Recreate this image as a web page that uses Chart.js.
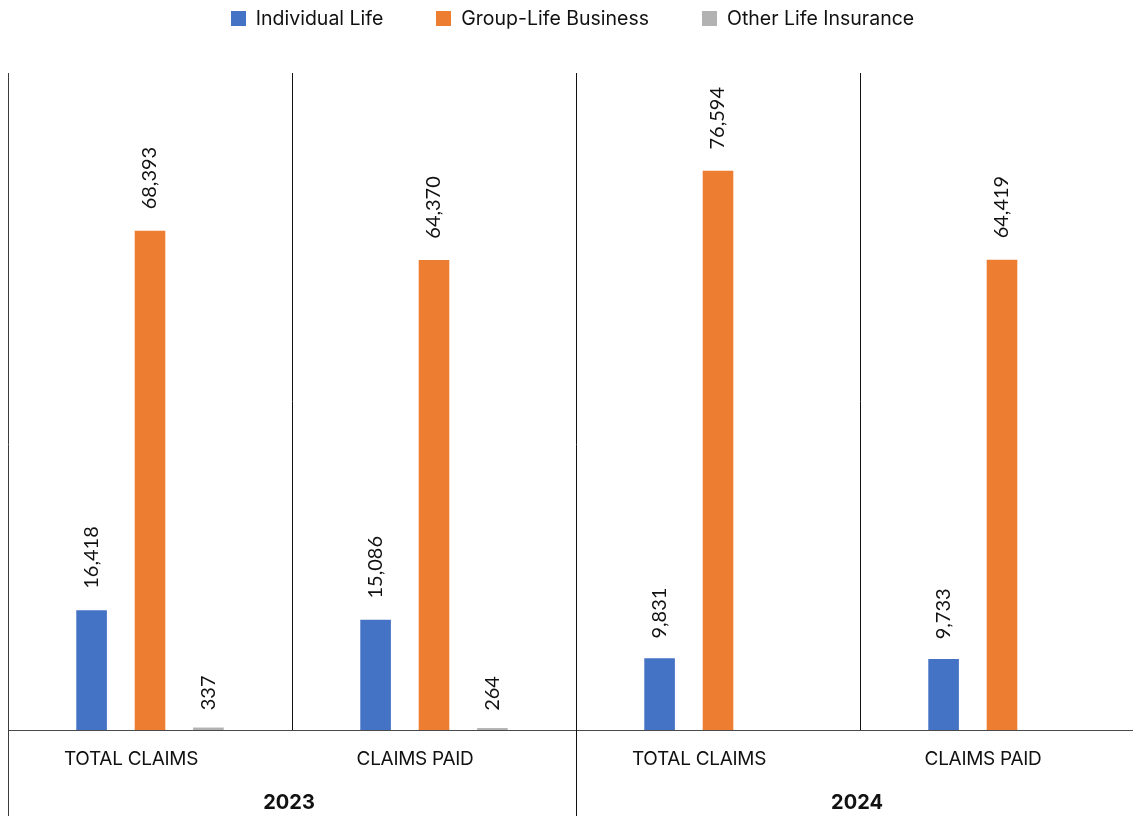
<!DOCTYPE html>
<html>
<head>
<meta charset="utf-8">
<script src="https://cdn.jsdelivr.net/npm/chart.js@4/dist/chart.umd.min.js"></script>
<style>
  html, body { margin: 0; padding: 0; background: #fff; overflow: hidden; }
  #wrap { width: 1144px; height: 816px; position: relative; }
</style>
</head>
<body>
<div id="wrap"><canvas id="c"></canvas></div>
<script>
// Claims by line of business, in thousands
const categories = ['TOTAL CLAIMS', 'CLAIMS PAID', 'TOTAL CLAIMS', 'CLAIMS PAID'];
const years = ['2023', '2024'];
const seriesNames = ['Individual Life', 'Group-Life Business', 'Other Life Insurance'];
const individualLife = [16418, 15086, 9831, 9733];
const groupLife = [68393, 64370, 76594, 64419];
const otherLife = [337, 264, null, null];
const seriesColors = ['#4472C4', '#ED7D31', '#B2B2B2'];

const LABEL_FONT = '"Lato", "Open Sans", sans-serif';
const UI_FONT = '"Inter", "Roboto", sans-serif';

// Value labels, rotated, above each bar
const valueLabels = {
  id: 'valueLabels',
  afterDatasetsDraw(chart) {
    const ctx = chart.ctx;
    ctx.save();
    ctx.font = '20px ' + LABEL_FONT;
    ctx.fillStyle = '#111';
    chart.data.datasets.forEach((ds, di) => {
      const meta = chart.getDatasetMeta(di);
      meta.data.forEach((bar, i) => {
        const v = ds.data[i];
        if (v === null || v === undefined) return;
        const txt = v.toLocaleString('en-US');
        const w = ctx.measureText(txt).width;
        const gap = 12 + 0.15 * w;
        ctx.save();
        ctx.translate(bar.x, bar.y - gap);
        ctx.rotate(-Math.PI / 2);
        ctx.textAlign = 'left';
        ctx.textBaseline = 'middle';
        ctx.fillText(txt, 0, 0);
        ctx.restore();
      });
    });
    ctx.restore();
  }
};

// Frame lines, category and year labels, legend
const frame = {
  id: 'frame',
  afterDraw(chart) {
    const ctx = chart.ctx;
    const area = chart.chartArea;
    const xs = chart.scales.x;
    const H = chart.height;
    const n = categories.length;
    const step = (area.right - area.left) / n;
    ctx.save();

    // baseline
    ctx.strokeStyle = '#4a4a4a';
    ctx.lineWidth = 1;
    ctx.beginPath();
    ctx.moveTo(area.left, Math.round(area.bottom) + 0.5);
    ctx.lineTo(chart.width, Math.round(area.bottom) + 0.5);
    ctx.stroke();

    // vertical separators between categories
    for (let k = 0; k < n; k++) {
      const x = Math.round(area.left + k * step) + 0.5;
      const full = (k % 2 === 0);
      ctx.strokeStyle = k === 0 ? '#3a3a3a' : '#111';
      ctx.beginPath();
      ctx.moveTo(x, Math.round(area.top));
      ctx.lineTo(x, full ? H : Math.round(area.bottom));
      ctx.stroke();
    }

    // category labels (sit slightly left of the bar group centre)
    ctx.fillStyle = '#111';
    ctx.textAlign = 'center';
    ctx.textBaseline = 'middle';
    ctx.font = '19px ' + UI_FONT;
    ctx.letterSpacing = '-0.3px';
    categories.forEach((c, i) => {
      ctx.fillText(c, xs.getPixelForValue(i) - 19, area.bottom + 29);
    });

    // year labels
    ctx.letterSpacing = '0px';
    ctx.font = 'bold 20px ' + UI_FONT;
    years.forEach((y, j) => {
      const cx = (xs.getPixelForValue(2 * j) + xs.getPixelForValue(2 * j + 1)) / 2;
      ctx.fillText(y, cx - 3, area.bottom + 73);
    });

    // legend
    ctx.font = '19.5px ' + UI_FONT;
    ctx.textAlign = 'left';
    const box = 15, boxGap = 10, itemGap = 53;
    const widths = seriesNames.map(s => box + boxGap + ctx.measureText(s).width);
    const total = widths.reduce((a, b) => a + b, 0) + itemGap * (seriesNames.length - 1);
    let x = 572.5 - total / 2;
    const yMid = 18.5;
    seriesNames.forEach((s, i) => {
      ctx.fillStyle = seriesColors[i];
      ctx.fillRect(Math.round(x), Math.round(yMid - box / 2), box, box);
      ctx.fillStyle = '#111';
      ctx.fillText(s, x + box + boxGap, yMid + 0.5);
      x += widths[i] + itemGap;
    });

    ctx.restore();
  }
};

new Chart(document.getElementById('c'), {
  type: 'bar',
  data: {
    labels: categories,
    datasets: [
      { label: seriesNames[0], data: individualLife, backgroundColor: seriesColors[0] },
      { label: seriesNames[1], data: groupLife, backgroundColor: seriesColors[1] },
      { label: seriesNames[2], data: otherLife, backgroundColor: seriesColors[2] }
    ]
  },
  options: {
    responsive: true,
    maintainAspectRatio: false,
    animation: false,
    layout: { padding: { left: 8, top: 73, right: 0, bottom: 86 } },
    datasets: {
      bar: { categoryPercentage: 0.617, barPercentage: 0.524 }
    },
    scales: {
      x: { display: false },
      y: { display: false, min: 0, max: 90000 }
    },
    plugins: {
      legend: { display: false },
      tooltip: { enabled: false }
    }
  },
  plugins: [valueLabels, frame]
});
</script>
</body>
</html>
